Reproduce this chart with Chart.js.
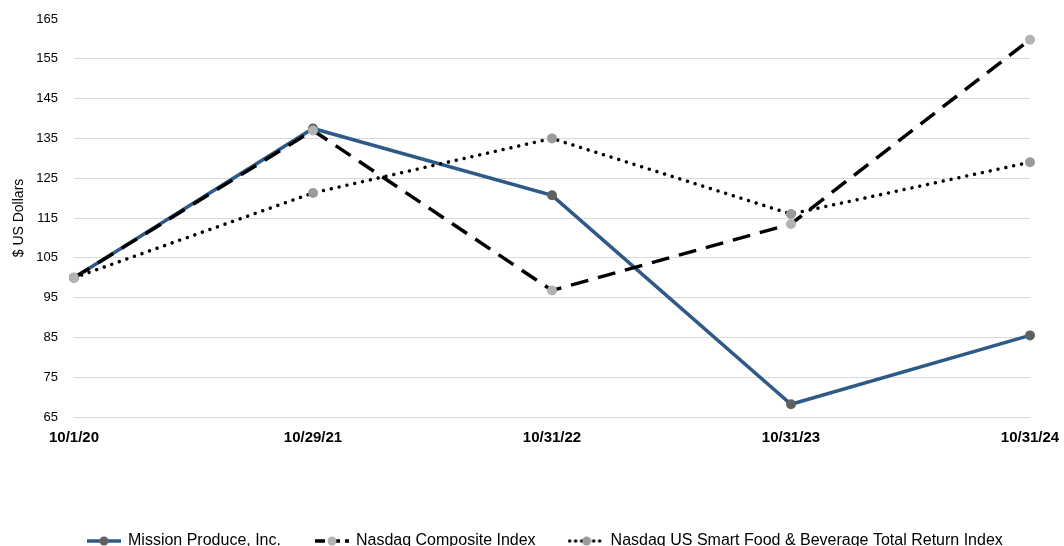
<!DOCTYPE html>
<html>
<head>
<meta charset="utf-8">
<script src="https://cdn.jsdelivr.net/npm/chart.js@4.4.0/dist/chart.umd.min.js"></script>
<style>
  html, body { margin: 0; padding: 0; background: #fff; overflow: hidden; }
  #wrap { width: 1064px; height: 559px; position: relative; }
</style>
</head>
<body>
<div id="wrap"><canvas id="c"></canvas></div>
<script>
// data
const dates = ["10/1/20", "10/29/21", "10/31/22", "10/31/23", "10/31/24"];
const mission = [100, 137.5, 120.7, 68.2, 85.5];
const nasdaqComposite = [100, 137, 96.8, 113.5, 159.8];
const foodBeverage = [100, 121.3, 135, 116, 129];
const yTicks = [65, 75, 85, 95, 105, 115, 125, 135, 145, 155, 165];

const FONT = "'Liberation Sans', Arial, sans-serif";

// little legend picture: line piece with the marker in the middle
function legendIcon(color, dash, cap, markColor) {
  const cv = document.createElement("canvas");
  cv.width = 38;
  cv.height = 12;
  const g = cv.getContext("2d");
  g.strokeStyle = color;
  g.lineWidth = 3.5;
  g.lineCap = cap;
  g.setLineDash(dash);
  g.beginPath();
  g.moveTo(2, 6);
  g.lineTo(36, 6);
  g.stroke();
  g.fillStyle = markColor;
  g.beginPath();
  g.arc(19, 6, 4.5, 0, Math.PI * 2);
  g.fill();
  return cv;
}

// legend row starts further right than chart.js would put it
const legendShift = {
  id: "legendShift",
  beforeDraw(chart) {
    chart.legend.left = 53;
    chart.legend.right = 1064;
  }
};

const ctx = document.getElementById("c").getContext("2d");

const datasets = [
  {
    label: "Mission Produce, Inc.",
    data: mission,
    borderColor: "#2e5a88",
    borderWidth: 3.5,
    pointBackgroundColor: "#606060",
    pointBorderWidth: 0,
    pointRadius: 5,
    order: 3,
    legendIcon: legendIcon("#2e5a88", [], "butt", "#606060")
  },
  {
    label: "Nasdaq Composite Index",
    data: nasdaqComposite,
    borderColor: "#000000",
    borderWidth: 3.5,
    borderDash: [18, 10],
    pointBackgroundColor: "#b3b3b3",
    pointBorderWidth: 0,
    pointRadius: 5,
    order: 1,
    legendIcon: legendIcon("#000000", [10, 5], "butt", "#b3b3b3")
  },
  {
    label: "Nasdaq US Smart Food & Beverage Total Return Index",
    data: foodBeverage,
    borderColor: "#000000",
    borderWidth: 3.5,
    borderDash: [0.01, 8],
    borderCapStyle: "round",
    pointBackgroundColor: "#9b9b9b",
    pointBorderWidth: 0,
    pointRadius: 5,
    order: 2,
    legendIcon: legendIcon("#000000", [0.01, 6], "round", "#9b9b9b")
  }
];

new Chart(ctx, {
  type: "line",
  data: { labels: dates, datasets: datasets },
  plugins: [legendShift],
  options: {
    responsive: true,
    maintainAspectRatio: false,
    animation: false,
    layout: { padding: { top: 19, right: 34, left: 0, bottom: 0 } },
    elements: { line: { tension: 0 } },
    plugins: {
      tooltip: { enabled: false },
      legend: {
        position: "bottom",
        align: "start",
        labels: {
          usePointStyle: true,
          pointStyleWidth: 32,
          padding: 35,
          color: "#000",
          font: { family: FONT, size: 16 },
          sort: (a, b) => a.datasetIndex - b.datasetIndex,
          generateLabels: (chart) => chart.data.datasets.map((d, i) => ({
            text: d.label,
            datasetIndex: i,
            pointStyle: d.legendIcon,
            fillStyle: d.borderColor,
            strokeStyle: d.borderColor,
            lineWidth: 0,
            hidden: false,
            fontColor: "#000"
          }))
        }
      }
    },
    scales: {
      x: {
        offset: false,
        grid: { display: false, drawTicks: false },
        border: { display: false },
        ticks: {
          color: "#000",
          padding: 12,
          maxRotation: 0,
          autoSkip: false,
          font: { family: FONT, size: 15, weight: "bold" }
        },
        afterFit: (s) => {
          s.height = 81;
          s.paddingLeft = 0;
          s.paddingRight = 0;
        }
      },
      y: {
        min: 65,
        max: 165,
        afterBuildTicks: (s) => { s.ticks = yTicks.map(v => ({ value: v })); },
        grid: {
          color: (c) => c.tick && c.tick.value === 165 ? "rgba(0,0,0,0)" : "#d9d9d9",
          lineWidth: 1,
          drawTicks: false
        },
        border: { display: false },
        ticks: {
          color: "#000",
          padding: 16,
          font: { family: FONT, size: 13 }
        },
        title: {
          display: true,
          text: "$ US Dollars",
          color: "#000",
          padding: { top: 11, bottom: 0 },
          font: { family: FONT, size: 14 }
        },
        afterFit: (s) => {
          s.width = 74;
          s.paddingTop = 0;
          s.paddingBottom = 0;
        }
      }
    }
  }
});
</script>
</body>
</html>
